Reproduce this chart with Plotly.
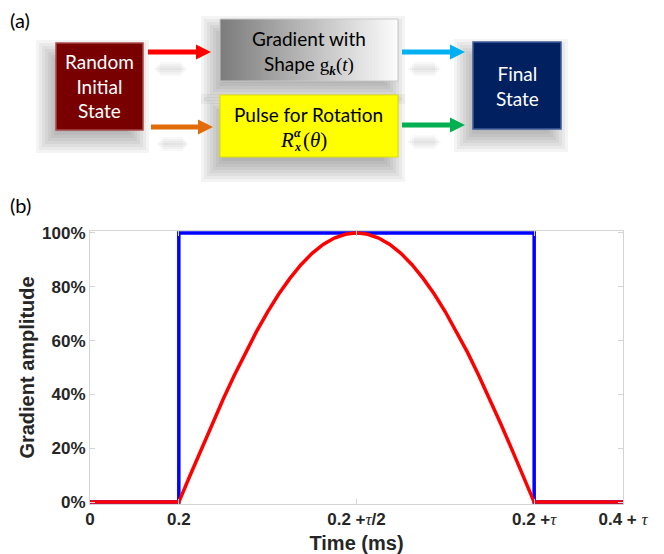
import plotly.graph_objects as go

# ---------------- data (panel b) ----------------
pulse_time_ms = [0.0, 0.2, 0.2, 1.0, 1.0, 1.2]
pulse_amplitude = [0, 0, 100, 100, 0, 0]

sine_time_ms = [0.0, 0.2, 0.225, 0.25, 0.275, 0.3, 0.325, 0.35, 0.375, 0.4,
                0.425, 0.45, 0.475, 0.5, 0.525, 0.55, 0.575, 0.6, 0.625, 0.65,
                0.675, 0.7, 0.725, 0.75, 0.775, 0.8, 0.825, 0.85, 0.875, 0.9,
                0.925, 0.95, 0.975, 1.0, 1.2]
sine_amplitude = [0, 0, 9.8, 19.5, 29.0, 38.3, 47.1, 55.6, 63.4, 70.7,
                  77.3, 83.1, 88.2, 92.4, 95.7, 98.1, 99.5, 100, 99.5, 98.1,
                  95.7, 92.4, 88.2, 83.1, 77.3, 70.7, 63.4, 55.6, 47.1, 38.3,
                  29.0, 19.5, 9.8, 0, 0]

x_tick_vals = [0, 0.2, 0.6, 1.0, 1.2]
x_tick_labels = ["0", "0.2", "0.2 +|τ|/2", "0.2 +|τ|", "0.4 + |τ|"]
y_tick_vals = [0, 20, 40, 60, 80, 100]
y_tick_labels = ["0%", "20%", "40%", "60%", "80%", "100%"]

x_title = "Time (ms)"
y_title = "Gradient amplitude"

# ---------------- data (panel a) ----------------
block_texts = ["Random<br>Initial<br>State", "Gradient with", "Pulse for Rotation", "Final<br>State"]

# ---------------- layout geometry ----------------
W, H = 664, 554
L, R, T, B = 90, 623, 231, 504


def X(px):
    return (px - L) / (R - L)


def Y(py):
    return (B - py) / (B - T)


shapes = []
annotations = []


def rect(x0, y0, x1, y1, fill, line_color=None, lw=0, opacity=1.0):
    shapes.append(dict(type="rect", xref="paper", yref="paper",
                       x0=X(x0), x1=X(x1), y0=Y(y1), y1=Y(y0),
                       fillcolor=fill, opacity=opacity, layer="above",
                       line=dict(width=lw, color=line_color or fill)))


def shadow(x0, y0, x1, y1, dx, dy, n=8, step=3, op=0.055):
    for i in range(n):
        p = -8 + i * step
        rect(x0 + dx - p, y0 + dy - p, x1 + dx + p, y1 + dy + p, "#303030", opacity=op)


def arrow(x0, x1, y, color):
    shapes.append(dict(type="rect", xref="paper", yref="paper",
                       x0=X(x0), x1=X(x1 - 13), y0=Y(y + 2.5), y1=Y(y - 2.5),
                       fillcolor=color, line=dict(width=0), layer="above"))
    path = "M {:.5f},{:.5f} L {:.5f},{:.5f} L {:.5f},{:.5f} Z".format(
        X(x1 - 15), Y(y - 7.5), X(x1), Y(y), X(x1 - 15), Y(y + 7.5))
    shapes.append(dict(type="path", xref="paper", yref="paper", path=path,
                       fillcolor=color, line=dict(width=0), layer="above"))


def text(px, py, s, size=18, color="black", family="Lato", xanchor="center"):
    annotations.append(dict(xref="paper", yref="paper", x=X(px), y=Y(py), text=s,
                            showarrow=False, xanchor=xanchor, yanchor="middle",
                            font=dict(size=size, color=color, family=family)))


# shadows
shadow(56, 43, 143, 130, -7, 10)
shadow(220, 19, 398, 81, -6, 10)
shadow(220, 95, 398, 157, -6, 12)
shadow(473, 42, 561, 129, -6, 10)
for (ax0, ax1, ay) in [(148, 211, 52), (151, 213, 127), (402, 465, 52), (402, 465, 125)]:
    shadow(ax0 + 6, ay + 14, ax1 - 20, ay + 16, -2, 2, n=4, step=2, op=0.035)

# boxes
rect(56, 43, 143, 130, "#780000", "#a84a4a", 1.5)
n_strips = 60
bx0, bx1 = 220, 398
for i in range(n_strips):
    f = i / (n_strips - 1)
    g = int(125 + (252 - 125) * f)
    sx0 = bx0 + (bx1 - bx0) * i / n_strips
    sx1 = bx0 + (bx1 - bx0) * (i + 1) / n_strips + 0.6
    rect(sx0, 19, min(sx1, bx1), 81, "rgb({0},{0},{0})".format(g))
shapes.append(dict(type="rect", xref="paper", yref="paper", x0=X(220), x1=X(398),
                   y0=Y(81), y1=Y(19), line=dict(width=1, color="#c8c8c8"),
                   fillcolor="rgba(0,0,0,0)", layer="above"))
rect(220, 95, 398, 157, "#ffff00", "#e0e000", 1.2)
rect(473, 42, 561, 129, "#002060", "#3f5e9a", 1.5)

# arrows
arrow(148, 211, 52, "#ff0000")
arrow(151, 213, 127, "#e36c0a")
arrow(402, 465, 52, "#00b0f0")
arrow(402, 465, 125, "#00b050")

# block texts
text(99.5, 86, block_texts[0], size=19, color="white")
text(309, 38, block_texts[1], size=19)
text(309, 65, "Shape <span style='font-family:Liberation Serif'>g<sub><b><i>k</i></b></sub>(<i>t</i>)</span>", size=19)
text(308, 115, block_texts[2], size=19)
text(287, 140, "<i>R</i>", size=21, family="Liberation Serif")
text(297, 133, "<b><i>α</i></b>", size=12, family="Liberation Serif")
text(297, 147, "<b><i>x</i></b>", size=12, family="Liberation Serif")
text(301, 140, "(<i>θ</i>)", size=21, family="Liberation Serif", xanchor="left")
text(517, 86, block_texts[3], size=19, color="white")

# panel labels
text(8, 20, "(a)", size=20, xanchor="left")
text(8, 205, "(b)", size=20, xanchor="left")


def fmt_tick(s):
    parts = s.split("|")
    out = ""
    for i, p in enumerate(parts):
        if i % 2 == 1:
            out += "<span style='font-family:Liberation Serif'><i>" + p + "</i></span>"
        elif p:
            out += "<b>" + p + "</b>"
    return out


fig = go.Figure()
fig.add_trace(go.Scatter(x=pulse_time_ms, y=pulse_amplitude, mode="lines",
                         line=dict(color="#0000ff", width=3.5), showlegend=False))
fig.add_trace(go.Scatter(x=sine_time_ms, y=sine_amplitude, mode="lines",
                         line=dict(color="#ff0000", width=3.5), showlegend=False))

axis_common = dict(showline=True, mirror="ticks", linecolor="#d4d4d4", linewidth=1,
                   ticks="inside", ticklen=5, tickcolor="#d4d4d4", showgrid=False,
                   zeroline=False, automargin=False,
                   tickfont=dict(family="Liberation Sans", size=17, color="#262626"))

fig.update_xaxes(range=[0, 1.2], tickmode="array", tickvals=x_tick_vals,
                 ticktext=[fmt_tick(s) for s in x_tick_labels],
                 title=dict(text="<b>" + x_title + "</b>", standoff=8,
                            font=dict(family="Liberation Sans", size=20, color="#262626")),
                 **axis_common)
fig.update_yaxes(range=[-0.7, 100.7], tickmode="array", tickvals=y_tick_vals,
                 ticktext=["<b>" + s + "</b>" for s in y_tick_labels],
                 title=dict(text="<b>" + y_title + "</b>", standoff=2,
                            font=dict(family="Liberation Sans", size=20, color="#262626")),
                 **axis_common)

fig.update_layout(width=W, height=H, margin=dict(l=L, r=W - R, t=T, b=H - B),
                  paper_bgcolor="white", plot_bgcolor="white",
                  shapes=shapes, annotations=annotations)

fig.write_html("out.html", config={"displayModeBar": False},
               post_script="document.body.style.margin='0';document.body.style.overflow='hidden';")
